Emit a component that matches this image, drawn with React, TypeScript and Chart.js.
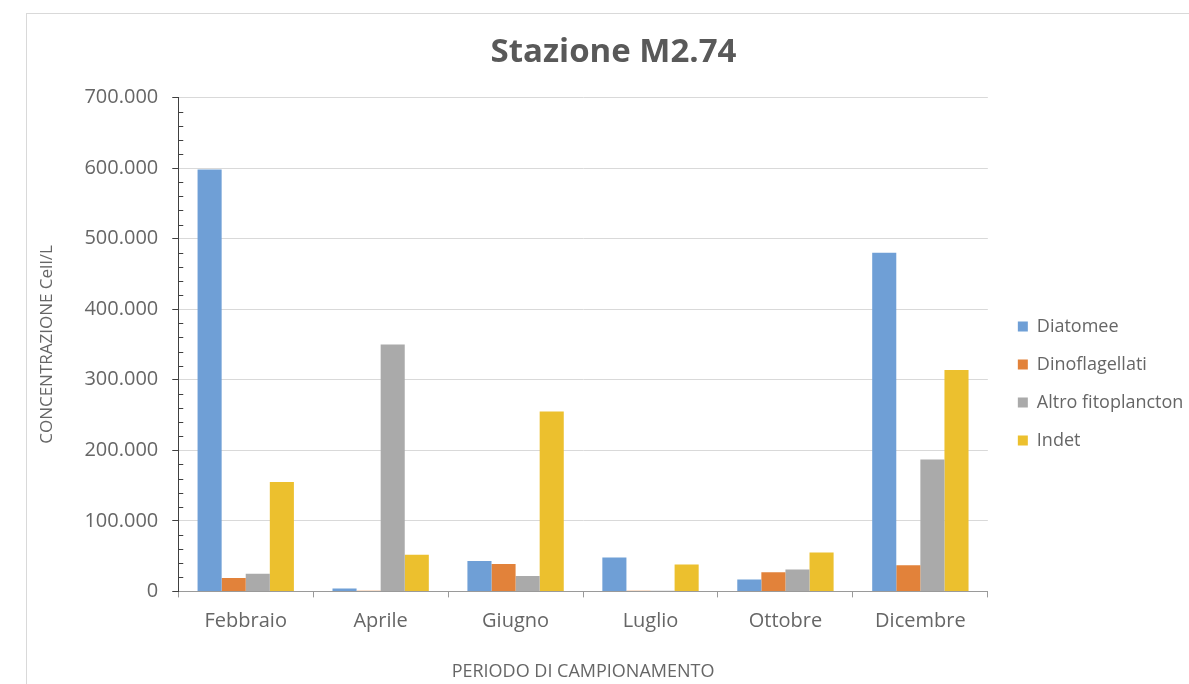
import React, { useEffect, useRef } from "react";
import { Chart, registerables } from "chart.js";

Chart.register(...registerables);

const categories = ["Febbraio", "Aprile", "Giugno", "Luglio", "Ottobre", "Dicembre"];
const diatomee = [598000, 4000, 43000, 48000, 17000, 480000];
const dinoflagellati = [19000, 1000, 39000, 1000, 27000, 37000];
const altroFitoplancton = [25000, 350000, 22000, 1000, 31000, 187000];
const indet = [155000, 52000, 255000, 38000, 55000, 314000];
const seriesNames = ["Diatomee", "Dinoflagellati", "Altro fitoplancton", "Indet"];
const seriesColors = ["#6F9FD6", "#E2823A", "#AAAAAA", "#ECC02E"];

const FONT = "'Open Sans', 'DejaVu Sans', sans-serif";
const TEXT = "#666666";

const fmt = (v: number) => String(v).replace(/\B(?=(\d{3})+(?!\d))/g, ".");

const minorTicks = {
  id: "minorTicks",
  afterDraw(chart: any) {
    const y = chart.scales.y;
    const ctx = chart.ctx;
    ctx.save();
    ctx.strokeStyle = "#404040";
    ctx.lineWidth = 1;
    for (let v = 0; v <= 700000; v += 20000) {
      if (v % 100000 === 0) continue;
      const py = Math.round(y.getPixelForValue(v)) + 0.5;
      ctx.beginPath();
      ctx.moveTo(y.right, py);
      ctx.lineTo(y.right + 5, py);
      ctx.stroke();
    }
    ctx.restore();
  },
};

export default function App() {
  const ref = useRef<HTMLCanvasElement | null>(null);
  useEffect(() => {
    if (!ref.current) return;
    const data = [diatomee, dinoflagellati, altroFitoplancton, indet];
    const chart = new Chart(ref.current, {
      type: "bar",
      data: {
        labels: categories,
        datasets: data.map((d, i) => ({
          label: seriesNames[i],
          data: d,
          backgroundColor: seriesColors[i],
          borderWidth: 0,
          categoryPercentage: 0.714,
          barPercentage: 1,
        })),
      },
      options: {
        animation: false,
        responsive: false,
        maintainAspectRatio: false,
        layout: { padding: { left: 10, right: 35, top: 8, bottom: 29 } },
        plugins: {
          title: {
            display: true,
            text: "Stazione M2.74",
            color: "#595959",
            font: { family: FONT, size: 33, weight: "bold" },
            padding: { top: 11, bottom: 25 },
          },
          legend: {
            position: "right",
            title: { display: true, text: " ", font: { size: 10 }, padding: 25 },
            labels: {
              boxWidth: 10,
              boxHeight: 10,
              padding: 20,
              color: TEXT,
              font: { family: FONT, size: 18 },
            },
          },
          tooltip: { enabled: false },
        },
        scales: {
          x: {
            grid: {
              display: true,
              drawOnChartArea: false,
              offset: true,
              tickColor: "#9a9a9a",
              tickLength: 6,
            },
            border: { display: true, color: "#9a9a9a" },
            ticks: { color: TEXT, font: { family: FONT, size: 20 }, padding: 12 },
            title: {
              display: true,
              text: "PERIODO DI CAMPIONAMENTO",
              color: TEXT,
              font: { family: FONT, size: 18 },
              padding: { top: 16, bottom: 0 },
            },
          },
          y: {
            min: 0,
            max: 700000,
            grid: { color: "#D9D9D9", tickColor: "#404040", tickLength: 6 },
            border: { display: true, color: "#404040" },
            ticks: {
              stepSize: 100000,
              color: TEXT,
              font: { family: FONT, size: 20 },
              padding: 14,
              callback: (v: any) => fmt(Number(v)),
            },
            title: {
              display: true,
              text: "CONCENTRAZIONE Cell/L",
              color: TEXT,
              font: { family: FONT, size: 17 },
              padding: { top: 0, bottom: 13 },
            },
          },
          gap: {
            type: "linear",
            position: "right",
            display: true,
            grid: { display: false },
            border: { display: false },
            ticks: { display: false },
            afterFit: (s: any) => {
              s.width = 10;
            },
          },
        },
      },
      plugins: [minorTicks],
    });
    return () => chart.destroy();
  }, []);

  return (
    <div style={{ position: "fixed", left: 0, top: 0, width: 1189, height: 684, overflow: "hidden", background: "#fff" }}>
      <div
        style={{
          position: "absolute",
          left: 26,
          top: 13,
          width: 1200,
          height: 700,
          border: "1px solid #D9D9D9",
          boxSizing: "border-box",
        }}
      >
        <canvas ref={ref} width={1198} height={698} style={{ display: "block" }} />
      </div>
    </div>
  );
}
